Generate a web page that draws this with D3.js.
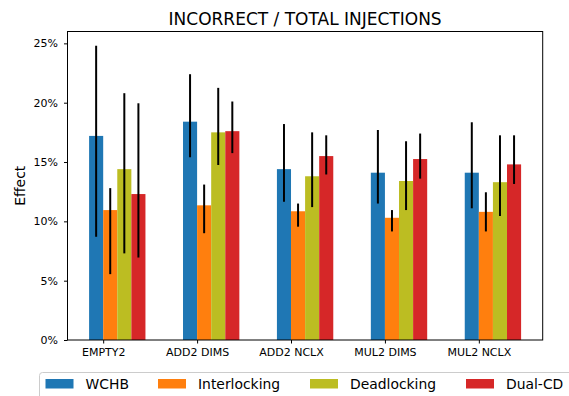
<!DOCTYPE html>
<html lang="en">
<head>
  <meta charset="utf-8">
  <script src="https://d3js.org/d3.v7.min.js"></script>
  <style>
    body { margin: 0; background: #fff; }
    text { font-family: "DejaVu Sans", sans-serif; fill: #000; }
  </style>
</head>
<body>
  <div id="my_dataviz"></div>
  <script>
    // data (percent)
    const categories = ["EMPTY2", "ADD2 DIMS", "ADD2 NCLX", "MUL2 DIMS", "MUL2 NCLX"];
    const seriesNames = ["WCHB", "Interlocking", "Deadlocking", "Dual-CD"];
    const colors = ["#1f77b4", "#ff7f0e", "#bcbd22", "#d62728"];

    const wchb = [17.2, 18.4, 14.4, 14.1, 14.1];
    const wchbLow = [8.7, 15.4, 11.65, 11.5, 11.1];
    const wchbHigh = [24.8, 22.4, 18.2, 17.7, 18.35];

    const interlocking = [10.95, 11.35, 10.85, 10.3, 10.8];
    const interlockingLow = [5.55, 9.0, 9.55, 9.15, 9.15];
    const interlockingHigh = [12.8, 13.1, 11.5, 10.95, 12.45];

    const deadlocking = [14.4, 17.5, 13.8, 13.4, 13.3];
    const deadlockingLow = [7.3, 14.75, 11.2, 10.95, 10.45];
    const deadlockingHigh = [20.8, 21.25, 17.5, 16.75, 17.25];

    const dualCD = [12.3, 17.6, 15.5, 15.25, 14.8];
    const dualCDLow = [6.95, 15.75, 13.95, 13.6, 13.15];
    const dualCDHigh = [19.95, 20.1, 17.25, 17.4, 17.25];

    const yTicks = [0, 5, 10, 15, 20, 25];

    const values = [wchb, interlocking, deadlocking, dualCD];
    const lows = [wchbLow, interlockingLow, deadlockingLow, dualCDLow];
    const highs = [wchbHigh, interlockingHigh, deadlockingHigh, dualCDHigh];

    const W = 569, H = 396;
    const margin = {top: 31.5, right: 26.3, bottom: 56, left: 67.5},
        width = W - margin.left - margin.right,
        height = H - margin.top - margin.bottom;
    const barW = 0.15;

    const svg = d3.select("#my_dataviz")
      .append("svg")
        .attr("width", W)
        .attr("height", H);

    const g = svg.append("g")
        .attr("transform", `translate(${margin.left},${margin.top})`);

    // flatten to one row per bar
    const rows = [];
    categories.forEach((c, i) => {
      seriesNames.forEach((s, j) => {
        rows.push({cat: i, s: j, v: values[j][i], lo: lows[j][i], hi: highs[j][i]});
      });
    });

    const x = d3.scaleLinear()
      .domain([-0.15 - 0.23, 4.45 + 0.23])
      .range([0, width]);

    const y = d3.scaleLinear()
      .domain([0, 26])
      .range([height, 0]);

    // Bars
    g.selectAll("rect.bar")
      .data(rows)
      .join("rect")
        .attr("class", "bar")
        .attr("x", d => x(d.cat + (d.s - 1) * barW))
        .attr("y", d => y(d.v))
        .attr("width", x(barW) - x(0))
        .attr("height", d => height - y(d.v))
        .attr("fill", d => colors[d.s]);

    // Error bars
    g.selectAll("line.err")
      .data(rows)
      .join("line")
        .attr("class", "err")
        .attr("x1", d => x(d.cat + (d.s - 0.5) * barW))
        .attr("x2", d => x(d.cat + (d.s - 0.5) * barW))
        .attr("y1", d => y(d.lo))
        .attr("y2", d => y(d.hi))
        .attr("stroke", "#000")
        .attr("stroke-width", 2);

    // Axes
    const xAxis = g.append("g")
      .attr("transform", `translate(0,${height})`)
      .call(d3.axisBottom(x).tickValues(d3.range(categories.length))
        .tickFormat(i => categories[i]).tickSizeOuter(0).tickSize(3.5).tickPadding(5));
    xAxis.selectAll("text").style("font-size", "11px");

    const yAxis = g.append("g")
      .call(d3.axisLeft(y).tickValues(yTicks).tickFormat(d => d + "%")
        .tickSizeOuter(0).tickSize(3.5).tickPadding(6));
    yAxis.selectAll("text").style("font-size", "11px");

    g.selectAll(".domain").remove();

    // frame
    g.append("rect")
      .attr("width", width)
      .attr("height", height)
      .attr("fill", "none")
      .attr("stroke", "#000")
      .attr("stroke-width", 1);

    // Title
    svg.append("text")
      .attr("x", margin.left + width / 2)
      .attr("y", 25)
      .attr("text-anchor", "middle")
      .style("font-size", "17px")
      .text("INCORRECT / TOTAL INJECTIONS");

    // Y axis label
    svg.append("text")
      .attr("transform", `translate(25,${margin.top + height / 2}) rotate(-90)`)
      .attr("text-anchor", "middle")
      .style("font-size", "13.9px")
      .text("Effect");

    // Legend
    const legend = svg.append("g").attr("transform", "translate(39.5,372.5)");
    legend.append("rect")
      .attr("width", 560)
      .attr("height", 40)
      .attr("rx", 3)
      .attr("fill", "#fff")
      .attr("stroke", "#cccccc")
      .attr("stroke-width", 1);

    const legendX = [6, 118.5, 270.5, 426.5];
    const item = legend.selectAll("g.item")
      .data(seriesNames)
      .join("g")
        .attr("class", "item")
        .attr("transform", (d, i) => `translate(${legendX[i]},0)`);
    item.append("rect")
      .attr("y", 6.5)
      .attr("width", 28)
      .attr("height", 9.5)
      .attr("fill", (d, i) => colors[i]);
    item.append("text")
      .attr("x", 40)
      .attr("y", 16.5)
      .style("font-size", "13.9px")
      .text(d => d);
  </script>
</body>
</html>
